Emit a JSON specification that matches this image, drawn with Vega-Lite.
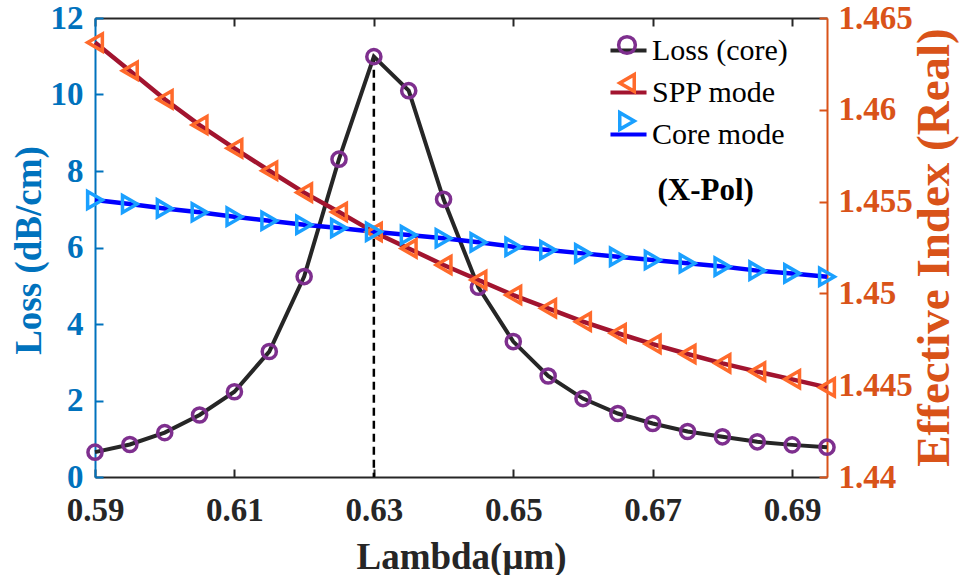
{
  "$schema": "https://vega.github.io/schema/vega-lite/v6.json",
  "width": 732,
  "height": 459,
  "autosize": {"type": "none"},
  "padding": {"left": 95, "top": 18, "right": 133, "bottom": 98},
  "background": "white",
  "config": {
    "font": "Liberation Serif",
    "view": {"stroke": null},
    "axis": {
      "grid": false,
      "labelFont": "Liberation Serif",
      "labelFontWeight": "bold",
      "labelFontSize": 33,
      "titleFont": "Liberation Serif",
      "titleFontWeight": "bold",
      "titleFontSize": 37,
      "tickSize": -8,
      "tickWidth": 2,
      "domainWidth": 2,
      "labelFlush": false,
      "labelOverlap": false
    },
    "legend": {"padding": 0, "offset": 0}
  },
  "data": {
    "values": [
      {"series": "Loss (core)", "lambda": 0.59, "value": 0.65},
      {"series": "Loss (core)", "lambda": 0.595, "value": 0.85},
      {"series": "Loss (core)", "lambda": 0.6, "value": 1.16},
      {"series": "Loss (core)", "lambda": 0.605, "value": 1.62},
      {"series": "Loss (core)", "lambda": 0.61, "value": 2.23},
      {"series": "Loss (core)", "lambda": 0.615, "value": 3.28},
      {"series": "Loss (core)", "lambda": 0.62, "value": 5.24},
      {"series": "Loss (core)", "lambda": 0.625, "value": 8.31},
      {"series": "Loss (core)", "lambda": 0.63, "value": 10.99},
      {"series": "Loss (core)", "lambda": 0.635, "value": 10.1},
      {"series": "Loss (core)", "lambda": 0.64, "value": 7.26},
      {"series": "Loss (core)", "lambda": 0.645, "value": 4.96},
      {"series": "Loss (core)", "lambda": 0.65, "value": 3.54},
      {"series": "Loss (core)", "lambda": 0.655, "value": 2.64},
      {"series": "Loss (core)", "lambda": 0.66, "value": 2.05},
      {"series": "Loss (core)", "lambda": 0.665, "value": 1.66},
      {"series": "Loss (core)", "lambda": 0.67, "value": 1.4},
      {"series": "Loss (core)", "lambda": 0.675, "value": 1.19},
      {"series": "Loss (core)", "lambda": 0.68, "value": 1.05},
      {"series": "Loss (core)", "lambda": 0.685, "value": 0.92},
      {"series": "Loss (core)", "lambda": 0.69, "value": 0.84},
      {"series": "Loss (core)", "lambda": 0.695, "value": 0.78},
      {"series": "SPP mode", "lambda": 0.59, "value": 1.46366},
      {"series": "SPP mode", "lambda": 0.595, "value": 1.46213},
      {"series": "SPP mode", "lambda": 0.6, "value": 1.46057},
      {"series": "SPP mode", "lambda": 0.605, "value": 1.45917},
      {"series": "SPP mode", "lambda": 0.61, "value": 1.4579},
      {"series": "SPP mode", "lambda": 0.615, "value": 1.45668},
      {"series": "SPP mode", "lambda": 0.62, "value": 1.45549},
      {"series": "SPP mode", "lambda": 0.625, "value": 1.45443},
      {"series": "SPP mode", "lambda": 0.63, "value": 1.45334},
      {"series": "SPP mode", "lambda": 0.635, "value": 1.45245},
      {"series": "SPP mode", "lambda": 0.64, "value": 1.45155},
      {"series": "SPP mode", "lambda": 0.645, "value": 1.45073},
      {"series": "SPP mode", "lambda": 0.65, "value": 1.44991},
      {"series": "SPP mode", "lambda": 0.655, "value": 1.44919},
      {"series": "SPP mode", "lambda": 0.66, "value": 1.44846},
      {"series": "SPP mode", "lambda": 0.665, "value": 1.44783},
      {"series": "SPP mode", "lambda": 0.67, "value": 1.44724},
      {"series": "SPP mode", "lambda": 0.675, "value": 1.4467},
      {"series": "SPP mode", "lambda": 0.68, "value": 1.44619},
      {"series": "SPP mode", "lambda": 0.685, "value": 1.44574},
      {"series": "SPP mode", "lambda": 0.69, "value": 1.44532},
      {"series": "SPP mode", "lambda": 0.695, "value": 1.44488},
      {"series": "Core mode", "lambda": 0.59, "value": 1.45509},
      {"series": "Core mode", "lambda": 0.595, "value": 1.45487},
      {"series": "Core mode", "lambda": 0.6, "value": 1.45463},
      {"series": "Core mode", "lambda": 0.605, "value": 1.45442},
      {"series": "Core mode", "lambda": 0.61, "value": 1.45418},
      {"series": "Core mode", "lambda": 0.615, "value": 1.45396},
      {"series": "Core mode", "lambda": 0.62, "value": 1.45374},
      {"series": "Core mode", "lambda": 0.625, "value": 1.45356},
      {"series": "Core mode", "lambda": 0.63, "value": 1.45336},
      {"series": "Core mode", "lambda": 0.635, "value": 1.45318},
      {"series": "Core mode", "lambda": 0.64, "value": 1.453},
      {"series": "Core mode", "lambda": 0.645, "value": 1.45278},
      {"series": "Core mode", "lambda": 0.65, "value": 1.45254},
      {"series": "Core mode", "lambda": 0.655, "value": 1.45236},
      {"series": "Core mode", "lambda": 0.66, "value": 1.45218},
      {"series": "Core mode", "lambda": 0.665, "value": 1.452},
      {"series": "Core mode", "lambda": 0.67, "value": 1.45182},
      {"series": "Core mode", "lambda": 0.675, "value": 1.45164},
      {"series": "Core mode", "lambda": 0.68, "value": 1.45146},
      {"series": "Core mode", "lambda": 0.685, "value": 1.45124},
      {"series": "Core mode", "lambda": 0.69, "value": 1.45109},
      {"series": "Core mode", "lambda": 0.695, "value": 1.45091}
    ]
  },
  "layer": [
    {
      "transform": [{"filter": "datum.series === 'Loss (core)'"}],
      "encoding": {
        "x": {
          "field": "lambda", "type": "quantitative",
          "scale": {"domain": [0.59, 0.695], "nice": false, "zero": false},
          "axis": {
            "orient": "bottom",
            "values": [0.59, 0.61, 0.63, 0.65, 0.67, 0.69],
            "format": ".2f",
            "title": "Lambda(μm)",
            "labelPadding": 25,
            "domainColor": "#262626", "tickColor": "#262626",
            "labelColor": "#262626", "titleColor": "#262626",
            "titleBaseline": "alphabetic", "titleY": 91
          }
        },
        "y": {
          "field": "value", "type": "quantitative",
          "scale": {"domain": [0, 12], "nice": false},
          "axis": {
            "orient": "left",
            "values": [0, 2, 4, 6, 8, 10, 12],
            "title": "Loss (dB/cm)",
            "labelPadding": 20,
            "domainColor": "#0072BD", "tickColor": "#0072BD",
            "labelColor": "#0072BD", "titleColor": "#0072BD",
            "titleAngle": 270, "titleBaseline": "alphabetic",
            "titleX": -55, "titleY": 232
          }
        }
      },
      "layer": [
        {
          "transform": [{"filter": "datum.lambda === 0.63"}],
          "mark": {"type": "rule", "color": "black", "strokeWidth": 2.5, "strokeDash": [8, 5]},
          "encoding": {"y2": {"datum": 0}}
        },
        {
          "mark": {"type": "line", "strokeWidth": 4},
          "encoding": {
            "color": {
              "field": "series", "type": "nominal",
              "sort": ["Loss (core)", "SPP mode", "Core mode"],
              "scale": {"range": ["#262626", "#A2142F", "#0000FF"]},
              "legend": {
                "orient": "none", "legendX": 513, "legendY": 12, "title": null,
                "symbolType": "stroke", "symbolSize": 1300, "symbolStrokeWidth": 4,
                "labelFont": "Liberation Serif", "labelFontSize": 30, "labelColor": "black",
                "labelOffset": 3, "rowPadding": 6
              }
            }
          }
        },
        {
          "mark": {"type": "point", "filled": false, "strokeWidth": 3.5, "size": 200, "opacity": 1},
          "encoding": {
            "stroke": {
              "field": "series", "type": "nominal",
              "scale": {"domain": ["Loss (core)", "SPP mode", "Core mode"], "range": ["#7E2F8E", "#FF6A2B", "#1AA0FF"]},
              "legend": {
                "orient": "none", "legendX": 517, "legendY": 12, "title": null,
                "symbolSize": 280, "symbolStrokeWidth": 3.5, "symbolFillColor": "transparent",
                "labelFont": "Liberation Serif", "labelFontSize": 30, "labelExpr": "''",
                "rowPadding": 6, "zindex": 2
              }
            },
            "shape": {
              "field": "series", "type": "nominal",
              "scale": {"domain": ["Loss (core)", "SPP mode", "Core mode"], "range": ["circle", "triangle-left", "triangle-right"]},
              "legend": {
                "orient": "none", "legendX": 517, "legendY": 12, "title": null,
                "symbolSize": 280, "symbolStrokeWidth": 3.5, "symbolFillColor": "transparent",
                "labelFont": "Liberation Serif", "labelFontSize": 30, "labelExpr": "''",
                "rowPadding": 6, "zindex": 2
              }
            }
          }
        }
      ]
    },
    {
      "transform": [{"filter": "datum.series !== 'Loss (core)'"}],
      "encoding": {
        "x": {
          "field": "lambda", "type": "quantitative",
          "scale": {"domain": [0.59, 0.695], "nice": false, "zero": false},
          "axis": {
            "orient": "top",
            "values": [0.59, 0.61, 0.63, 0.65, 0.67, 0.69],
            "labels": false, "title": null,
            "domainColor": "#262626", "tickColor": "#262626"
          }
        },
        "y": {
          "field": "value", "type": "quantitative",
          "scale": {"domain": [1.44, 1.465], "nice": false, "zero": false},
          "axis": {
            "orient": "right",
            "values": [1.44, 1.445, 1.45, 1.455, 1.46, 1.465],
            "format": ".3~f",
            "title": "Effective Index (Real)",
            "titleFontSize": 47,
            "labelPadding": 19,
            "domainColor": "#D95319", "tickColor": "#D95319",
            "labelColor": "#D95319", "titleColor": "#D95319",
            "titleAngle": 270, "titleBaseline": "alphabetic",
            "titleX": 121, "titleY": 229
          }
        }
      },
      "layer": [
        {
          "mark": {"type": "line", "strokeWidth": 4.5},
          "encoding": {
            "color": {
              "field": "series", "type": "nominal",
              "sort": ["Loss (core)", "SPP mode", "Core mode"]
            }
          }
        },
        {
          "mark": {"type": "point", "filled": false, "strokeWidth": 3.5, "size": 290, "opacity": 1},
          "encoding": {
            "stroke": {"field": "series", "type": "nominal"},
            "shape": {"field": "series", "type": "nominal"}
          }
        }
      ]
    },
    {
      "data": {"values": [{"note": "(X-Pol)"}]},
      "mark": {"type": "text", "font": "Liberation Serif", "fontWeight": "bold", "fontSize": 31, "align": "center", "baseline": "middle", "color": "black"},
      "encoding": {
        "x": {"datum": 0.6776, "type": "quantitative", "scale": {"domain": [0.59, 0.695], "nice": false, "zero": false}, "axis": null},
        "y": {"datum": 1.4556, "type": "quantitative", "scale": {"domain": [1.44, 1.465], "nice": false, "zero": false}, "axis": null},
        "text": {"field": "note", "type": "nominal"}
      }
    }
  ],
  "resolve": {"scale": {"y": "independent"}, "axis": {"x": "independent", "y": "independent"}}
}
